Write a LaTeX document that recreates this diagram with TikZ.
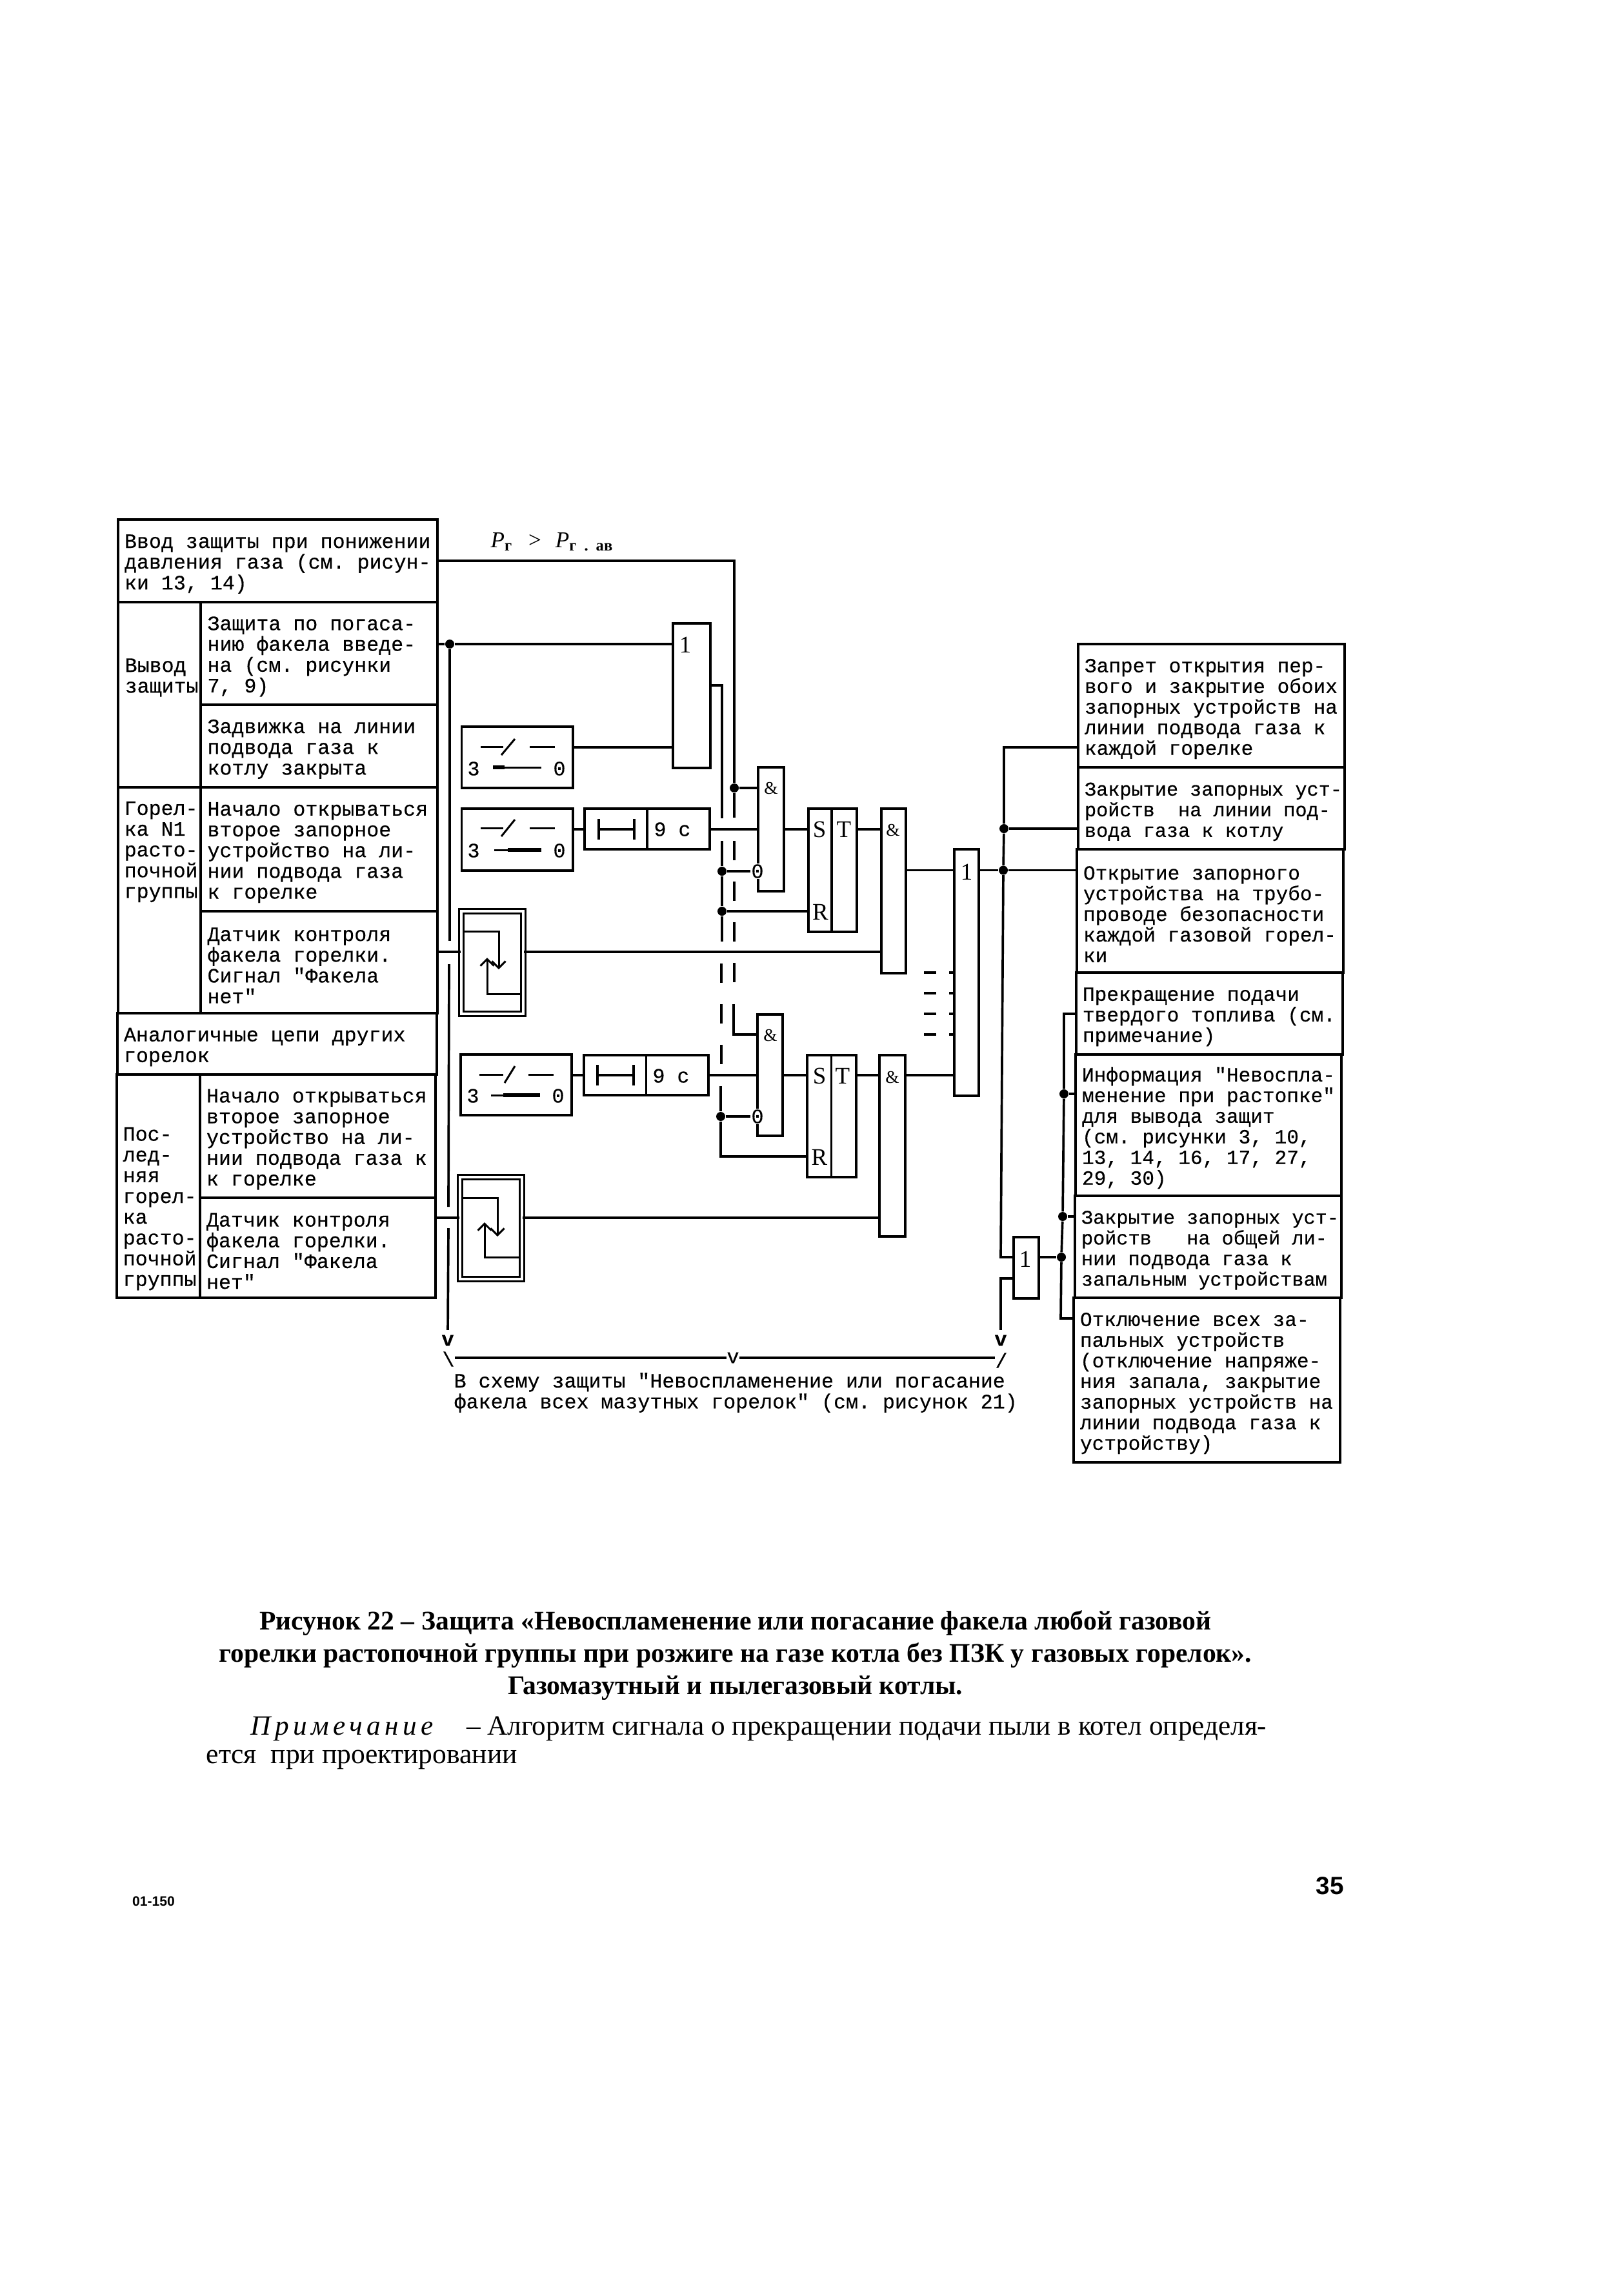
\documentclass[tikz,border=0pt]{standalone}
\usepackage{fontspec}
\setmainfont{Liberation Serif}
\setmonofont[FakeBold=0.4]{Liberation Mono}
\newfontfamily\plainsans{Liberation Sans}
\usetikzlibrary{arrows.meta}

\begin{document}
\begin{tikzpicture}[
    box/.style={rectangle, draw, line width=1.05pt, inner sep=0pt},
    cell/.style={box, align=flush left, inner xsep=0.1cm, font=\ttfamily\fontsize{9}{9.15}\selectfont, execute at begin node={\rule{0pt}{8.8pt}}},
    cell_r/.style={cell, font=\ttfamily\fontsize{8.85}{9.1}\selectfont},
    tight/.style={font=\ttfamily\fontsize{8.6}{9.1}\selectfont},
    txt/.style={inner sep=0pt, align=left, font=\ttfamily\fontsize{9}{9.15}\selectfont},
    sig/.style={inner sep=0pt, font=\fontsize{10.5}{11}\selectfont},
    amp/.style={inner sep=0pt, font=\fontsize{7.8}{9}\selectfont},
    sensor/.style={rectangle, draw, double, double distance=1.3pt, line width=0.8pt, inner sep=0pt},
    dot/.style={circle, fill=black, inner sep=0pt, minimum size=0.14cm},
    neg/.style={inner sep=0.3pt, fill=white, font=\ttfamily\fontsize{9}{9.15}\selectfont},
    wire/.style={line width=1.05pt},
    thin_w/.style={line width=0.85pt},
    dash_w/.style={wire, dash pattern=on 8.5pt off 9.4pt},
    stub_w/.style={wire, dash pattern=on 5.4pt off 5.7pt on 2.4pt off 0pt},
    sens_arr/.style={thin_w, -{Straight Barb[length=3pt,width=6pt]}},
    key_bar/.style={line width=1.9pt}
]
    \useasboundingbox (0,0) rectangle (25.17,-35.33);

    % Left table
    \node[cell, text width=4.75cm, minimum height=1.28cm] (inpgas) at (4.305,-8.69) {Ввод защиты при понижении\\давления газа (см. рисун-\\ки 13, 14)};
    \node[box, minimum width=1.285cm, minimum height=2.87cm] (vyvod) at (2.47,-10.765) {};
    \node[txt, anchor=west] (vyvod_t) at (1.93,-10.50) {Вывод\\защиты};
    \node[cell, text width=3.465cm, minimum height=1.59cm] (zashch) at (4.9475,-10.125) {Защита по погаса-\\нию факела введе-\\на (см. рисунки\\7, 9)};
    \node[cell, text width=3.465cm, minimum height=1.28cm] (zadv) at (4.9475,-11.56) {Задвижка на линии\\подвода газа к\\котлу закрыта};
    \node[box, minimum width=1.285cm, minimum height=3.5cm] (gor1) at (2.47,-13.95) {};
    \node[txt, anchor=west] (gor1_t) at (1.92,-13.20) {Горел-\\ка N1\\расто-\\почной\\группы};
    \node[cell, text width=3.465cm, minimum height=1.92cm] (start1) at (4.9475,-13.16) {Начало открываться\\второе запорное\\устройство на ли-\\нии подвода газа\\к горелке};
    \node[cell, text width=3.465cm, minimum height=1.58cm] (dat1) at (4.9475,-14.91) {Датчик контроля\\факела горелки.\\Сигнал "Факела\\нет"};
    \node[cell, text width=4.75cm, minimum height=0.95cm] (analog) at (4.295,-16.175) {Аналогичные цепи других\\горелок};
    \node[box, minimum width=1.29cm, minimum height=3.46cm] (gorn) at (2.455,-18.38) {};
    \node[txt, anchor=west] (gorn_t) at (1.90,-18.73) {Пос-\\лед-\\няя\\горел-\\ка\\расто-\\почной\\группы};
    \node[cell, text width=3.45cm, minimum height=1.91cm] (start2) at (4.925,-17.605) {Начало открываться\\второе запорное\\устройство на ли-\\нии подвода газа к\\к горелке};
    \node[cell, text width=3.45cm, minimum height=1.55cm] (dat2) at (4.925,-19.335) {Датчик контроля\\факела горелки.\\Сигнал "Факела\\нет"};

    % Right table
    \node[cell_r, text width=3.93cm, minimum height=1.91cm] (r1) at (18.775,-10.935) {Запрет открытия пер-\\вого и закрытие обоих\\запорных устройств на\\линии подвода газа к\\каждой горелке};
    \node[cell_r, tight, text width=3.93cm, minimum height=1.27cm] (r2) at (18.775,-12.525) {\mbox{Закрытие запорных уст-}\\ройств\ \ на линии под-\\вода газа к котлу};
    \node[cell_r, text width=3.93cm, minimum height=1.91cm] (r3) at (18.755,-14.115) {Открытие запорного\\устройства на трубо-\\проводе безопасности\\каждой газовой горел-\\ки};
    \node[cell_r, text width=3.93cm, minimum height=1.27cm] (r4) at (18.745,-15.705) {Прекращение подачи\\твердого топлива (см.\\примечание)};
    \node[cell_r, text width=3.92cm, minimum height=2.19cm] (r5) at (18.73,-17.435) {Информация "Невоспла-\\менение при растопке"\\для вывода защит\\(см. рисунки 3, 10,\\13, 14, 16, 17, 27,\\29, 30)};
    \node[cell_r, tight, text width=3.93cm, minimum height=1.58cm] (r6) at (18.725,-19.32) {\mbox{Закрытие запорных уст-}\\ройств\ \ \ на общей ли-\\нии подвода газа к\\запальным устройствам};
    \node[cell_r, text width=3.93cm, minimum height=2.55cm] (r7) at (18.705,-21.385) {Отключение всех за-\\пальных устройств\\(отключение напряже-\\ния запала, закрытие\\запорных устройств на\\линии подвода газа к\\устройству)};

    % Upper channel
    \node[box, minimum width=0.58cm, minimum height=2.24cm] (or1) at (10.72,-10.78) {};
    \node[sig] (or1_t) at (10.62,-9.99) {1};
    \node[box, minimum width=1.725cm, minimum height=0.95cm] (sw1) at (8.0175,-11.735) {};
    \node[box, minimum width=1.725cm, minimum height=0.96cm] (sw2) at (8.0175,-13.01) {};
    \node[box, minimum width=0.97cm, minimum height=0.63cm] (del1a) at (9.545,-12.845) {};
    \node[box, minimum width=0.97cm, minimum height=0.63cm] (del1b) at (10.515,-12.845) {};
    \node[txt] (del1_t) at (10.42,-12.85) {9 с};
    \node[box, minimum width=0.40cm, minimum height=1.92cm] (and1) at (11.95,-12.85) {};
    \node[amp] (and1_t) at (11.95,-12.22) {\&};
    \node[neg] (neg1) at (11.74,-13.50) {0};
    \node[box, minimum width=0.36cm, minimum height=1.91cm] (sr1a) at (12.71,-13.485) {};
    \node[box, minimum width=0.39cm, minimum height=1.91cm] (sr1b) at (13.085,-13.485) {};
    \node[sig] (sr1_s) at (12.70,-12.85) {S};
    \node[sig] (sr1_t) at (13.08,-12.85) {T};
    \node[sig] (sr1_r) at (12.715,-14.13) {R};
    \node[box, minimum width=0.38cm, minimum height=2.55cm] (and2) at (13.85,-13.805) {};
    \node[amp] (and2_t) at (13.84,-12.87) {\&};
    \node[box, minimum width=0.38cm, minimum height=3.82cm] (or3) at (14.98,-15.07) {};
    \node[sig] (or3_t) at (14.98,-13.51) {1};
    \node[sensor, minimum width=0.96cm, minimum height=1.59cm] (flame1) at (7.63,-14.915) {};

    % Lower channel
    \node[box, minimum width=1.72cm, minimum height=0.94cm] (sw3) at (8.00,-16.81) {};
    \node[box, minimum width=0.965cm, minimum height=0.62cm] (del2a) at (9.5325,-16.66) {};
    \node[box, minimum width=0.965cm, minimum height=0.62cm] (del2b) at (10.4975,-16.66) {};
    \node[txt] (del2_t) at (10.40,-16.67) {9 с};
    \node[box, minimum width=0.39cm, minimum height=1.88cm] (and3) at (11.935,-16.66) {};
    \node[amp] (and3_t) at (11.94,-16.04) {\&};
    \node[neg] (neg2) at (11.74,-17.30) {0};
    \node[box, minimum width=0.375cm, minimum height=1.89cm] (sr2a) at (12.6975,-17.295) {};
    \node[box, minimum width=0.385cm, minimum height=1.89cm] (sr2b) at (13.0775,-17.295) {};
    \node[sig] (sr2_s) at (12.70,-16.67) {S};
    \node[sig] (sr2_t) at (13.06,-16.67) {T};
    \node[sig] (sr2_r) at (12.70,-17.93) {R};
    \node[box, minimum width=0.40cm, minimum height=2.81cm] (and4) at (13.83,-17.755) {};
    \node[amp] (and4_t) at (13.83,-16.69) {\&};
    \node[box, minimum width=0.39cm, minimum height=0.95cm] (or4) at (15.905,-19.645) {};
    \node[sig] (or4_t) at (15.89,-19.51) {1};
    \node[sensor, minimum width=0.96cm, minimum height=1.58cm] (flame2) at (7.61,-19.03) {};

    % Bottom note
    \node[txt, font=\ttfamily\bfseries\fontsize{9}{9.15}\selectfont] (vl) at (6.94,-20.77) {v};
    \node[txt, font=\ttfamily\bfseries\fontsize{9}{9.15}\selectfont] (vr) at (15.51,-20.77) {v};
    \node[txt] (brk_l) at (6.95,-21.06) {\textbackslash};
    \node[txt] (vm) at (11.36,-21.04) {v};
    \node[txt] (brk_r) at (15.52,-21.08) {/};
    \node[txt, anchor=west] (note) at (7.03,-21.58) {В схему защиты "Невоспламенение или погасание\\факела всех мазутных горелок" (см. рисунок 21)};
    \node[inner sep=0pt, anchor=west, font=\fontsize{10}{11}\selectfont] (prs) at (7.60,-8.40) {\textit{P}\textsubscript{\textbf{г}}\hspace{0.24cm}>\hspace{0.22cm}\textit{P}\textsubscript{\textbf{г\hspace{0.12cm}.\hspace{0.12cm}ав}}};

    % Junctions
    \node[dot] (j_a) at (6.97,-9.98) {};
    \node[dot] (j_p) at (11.38,-12.21) {};
    \node[dot] (j_q1) at (11.19,-13.50) {};
    \node[dot] (j_q2) at (11.19,-14.12) {};
    \node[dot] (j_q3) at (11.17,-17.30) {};
    \node[dot] (j_r1) at (15.56,-12.84) {};
    \node[dot] (j_r2) at (15.55,-13.485) {};
    \node[dot] (j_s1) at (16.49,-16.95) {};
    \node[dot] (j_s2) at (16.47,-18.85) {};
    \node[dot] (j_s3) at (16.45,-19.48) {};

    % Wire corners and breaks
    \coordinate (bus_p) at (11.38,-8.69);
    \coordinate (p_e1) at (11.38,-12.67);
    \coordinate (p_d1) at (11.38,-13.03);
    \coordinate (p_d2) at (11.38,-15.22);
    \coordinate (p_s) at (11.37,-15.56);
    \coordinate (p_c) at (11.37,-16.03);
    \coordinate (q_top) at (11.19,-10.62);
    \coordinate (q_e1) at (11.19,-12.68);
    \coordinate (q_s) at (11.19,-13.03);
    \coordinate (q_e2) at (11.19,-14.59);
    \coordinate (q_d1) at (11.18,-14.93);
    \coordinate (q_d2) at (11.18,-16.51);
    \coordinate (q_s2) at (11.17,-16.83);
    \coordinate (q_c) at (11.17,-17.92);
    \coordinate (a_e1) at (6.97,-14.58);
    \coordinate (a_s2) at (6.96,-14.94);
    \coordinate (a_e2) at (6.95,-18.70);
    \coordinate (a_s3) at (6.95,-19.03);
    \coordinate (sw1_y) at (9.60,-11.58);
    \coordinate (row1) at (12.00,-12.85);
    \coordinate (row2) at (12.00,-16.66);
    \coordinate (fl1_y) at (7.00,-14.75);
    \coordinate (fl2_y) at (7.00,-18.87);
    \coordinate (or3_y) at (14.30,-13.485);
    \coordinate (r_top) at (15.56,-11.58);
    \coordinate (r_c) at (15.51,-19.48);
    \coordinate (t_c) at (15.51,-19.81);
    \coordinate (s_top) at (16.49,-15.71);
    \coordinate (s_e) at (16.44,-20.43);
    \coordinate (d1) at (14.32,-15.07);
    \coordinate (d2) at (14.32,-15.39);
    \coordinate (d3) at (14.32,-15.71);
    \coordinate (d4) at (14.32,-16.03);

    % Upper channel wires
    \draw[wire] (inpgas.east) -- (bus_p) -- (j_p) -- (p_e1);
    \draw[wire] (j_p) -- (j_p -| and1.west);
    \draw[dash_w] (p_d1) -- (p_d2);
    \draw[wire] (p_s) -- (p_c) -- (p_c -| and3.west);
    \draw[wire] (j_a -| zashch.east) -- (j_a) -- (j_a -| or1.west);
    \draw[wire] (j_a) -- (a_e1);
    \draw[wire] (a_s2) -- (a_e2);
    \draw[wire, shorten >=2pt] (a_s3) -- (vl.north);
    \draw[wire] (sw1_y -| sw1.east) -- (sw1_y -| or1.west);
    \draw[wire] (q_top -| or1.east) -- (q_top) -- (q_e1);
    \draw[wire] (q_s) -- (j_q1) -- (j_q2) -- (q_e2);
    \draw[dash_w] (q_d1) -- (q_d2);
    \draw[wire] (q_s2) -- (j_q3) -- (q_c) -- (q_c -| sr2a.west);
    \draw[wire] (j_q1) -- (neg1.west);
    \draw[wire] (j_q2) -- (j_q2 -| sr1a.west);
    \draw[wire] (row1 -| sw2.east) -- (row1 -| del1a.west);
    \draw[wire] (row1 -| del1b.east) -- (row1 -| and1.west);
    \draw[wire] (row1 -| and1.east) -- (row1 -| sr1a.west);
    \draw[wire] (row1 -| sr1b.east) -- (row1 -| and2.west);
    \draw[wire] (or3_y -| and2.east) -- (or3_y -| or3.west);
    \draw[wire] (fl1_y -| dat1.east) -- (fl1_y -| flame1.west);
    \draw[wire] (fl1_y -| flame1.east) -- (fl1_y -| and2.west);

    % Lower channel wires
    \draw[wire] (row2 -| sw3.east) -- (row2 -| del2a.west);
    \draw[wire] (row2 -| del2b.east) -- (row2 -| and3.west);
    \draw[wire] (row2 -| and3.east) -- (row2 -| sr2a.west);
    \draw[wire] (row2 -| sr2b.east) -- (row2 -| and4.west);
    \draw[wire] (row2 -| and4.east) -- (row2 -| or3.west);
    \draw[wire] (j_q3) -- (neg2.west);
    \draw[wire] (fl2_y -| dat2.east) -- (fl2_y -| flame2.west);
    \draw[wire] (fl2_y -| flame2.east) -- (fl2_y -| and4.west);
    \draw[stub_w] (d1) -- (d1 -| or3.west);
    \draw[stub_w] (d2) -- (d2 -| or3.west);
    \draw[stub_w] (d3) -- (d3 -| or3.west);
    \draw[stub_w] (d4) -- (d4 -| or3.west);

    % Outputs
    \draw[wire] (or3_y -| or3.east) -- (j_r2) -- (j_r2 -| r3.west);
    \draw[wire] (r_top -| r1.west) -- (r_top) -- (j_r1) -- (j_r2) -- (r_c) -- (r_c -| or4.west);
    \draw[wire] (j_r1) -- (j_r1 -| r2.west);
    \draw[wire, shorten >=2pt] (t_c -| or4.west) -- (t_c) -- (vr.north);
    \draw[wire] (j_s3 -| or4.east) -- (j_s3);
    \draw[wire] (s_top -| r4.west) -- (s_top) -- (j_s1) -- (j_s2) -- (j_s3) -- (s_e) -- (s_e -| r7.west);
    \draw[wire] (j_s1) -- (j_s1 -| r5.west);
    \draw[wire] (j_s2) -- (j_s2 -| r6.west);
    \draw[wire] (brk_l.east |- vm) -- (vm.west);
    \draw[wire] (vm.east) -- (brk_r.west |- vm);

    % Key switches
    \node[txt] (sw1_3) at (7.34,-11.91) {3};
    \node[txt] (sw1_0) at (8.67,-11.91) {0};
    \draw[thin_w] (7.45,-11.57) -- (7.80,-11.57);
    \draw[thin_w] (7.77,-11.70) -- (7.98,-11.45);
    \draw[thin_w] (8.21,-11.57) -- (8.60,-11.57);
    \draw[thin_w] (7.64,-11.89) -- (8.39,-11.89);
    \draw[key_bar] (7.64,-11.89) -- (7.82,-11.89);
    \node[txt] (sw2_3) at (7.34,-13.18) {3};
    \node[txt] (sw2_0) at (8.67,-13.18) {0};
    \draw[thin_w] (7.45,-12.83) -- (7.80,-12.83);
    \draw[thin_w] (7.77,-12.96) -- (7.98,-12.70);
    \draw[thin_w] (8.21,-12.83) -- (8.60,-12.83);
    \draw[thin_w] (7.66,-13.17) -- (8.39,-13.17);
    \draw[key_bar] (7.87,-13.17) -- (8.39,-13.17);
    \node[txt] (sw3_3) at (7.33,-16.98) {3};
    \node[txt] (sw3_0) at (8.65,-16.98) {0};
    \draw[thin_w] (7.43,-16.65) -- (7.80,-16.65);
    \draw[thin_w] (7.82,-16.78) -- (7.98,-16.52);
    \draw[thin_w] (8.19,-16.65) -- (8.58,-16.65);
    \draw[thin_w] (7.61,-16.97) -- (8.37,-16.97);
    \draw[key_bar] (7.80,-16.97) -- (8.37,-16.97);

    % Timer marks
    \draw[wire, {Bar[width=9pt]}-{Bar[width=9pt]}] (9.26,-12.85) -- (9.85,-12.85);
    \draw[wire, {Bar[width=9pt]}-{Bar[width=9pt]}] (9.24,-16.66) -- (9.84,-16.66);

    % Flame sensor marks
    \draw[sens_arr] (7.20,-14.43) -- (7.73,-14.43) -- (7.73,-15.02);
    \draw[sens_arr] (8.08,-15.40) -- (7.55,-15.40) -- (7.55,-14.84);
    \draw[sens_arr] (7.16,-18.56) -- (7.71,-18.56) -- (7.71,-19.16);
    \draw[sens_arr] (8.06,-19.48) -- (7.51,-19.48) -- (7.51,-18.94);

    % Caption and page marks
    \node[inner sep=0pt, align=center, font=\bfseries\fontsize{11.85}{14.2}\selectfont] (caption) at (11.40,-25.65) {Рисунок 22 – Защита «Невоспламенение или погасание факела любой газовой\\горелки растопочной группы при розжиге на газе котла без ПЗК у газовых горелок».\\Газомазутный и пылегазовый котлы.};
    \node[inner sep=0pt, anchor=west, font=\fontsize{12.3}{13}\selectfont] (rem1) at (3.88,-26.79) {{\itshape\addfontfeature{LetterSpace=15}Примечание}\hspace{0.4cm} – Алгоритм сигнала о прекращении подачи пыли в котел определя-};
    \node[inner sep=0pt, anchor=west, font=\fontsize{12.4}{13}\selectfont] (rem2) at (3.19,-27.27) {ется\ \ при проектировании};
    \node[inner sep=0pt, font=\plainsans\bfseries\fontsize{11}{12}\selectfont] (pageno) at (20.61,-29.22) {35};
    \node[inner sep=0pt, font=\plainsans\bfseries\fontsize{6}{7}\selectfont] (code) at (2.38,-29.46) {01-150};
\end{tikzpicture}
\end{document}
